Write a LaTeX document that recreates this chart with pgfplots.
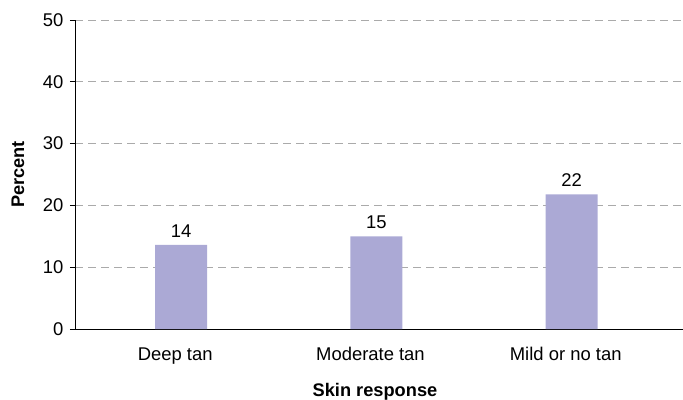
\documentclass[border=0pt]{standalone}
\usepackage{pgfplots}
\pgfplotsset{compat=1.18}
\usepackage{fontspec}
\setmainfont{Liberation Sans}
\definecolor{barcol}{RGB}{171,169,213}
\definecolor{gridcol}{RGB}{170,170,170}
\begin{document}
\begin{tikzpicture}
\useasboundingbox (-75bp,-71bp) rectangle (608bp,329bp);
\begin{axis}[
  scale only axis,
  width=608bp, height=309bp,
  xmin=-0.544, xmax=2.57,
  ymin=0, ymax=50,
  axis lines=left,
  axis line style={-, black, line width=0.8pt},
  ytick={0,10,20,30,40,50},
  xtick={0,1,2},
  xticklabels={Deep tan, Moderate tan, Mild or no tan},
  extra x ticks={-0.544,0.5,1.5},
  extra x tick labels={},
  extra x tick style={major tick length=5bp, tick style={black, line width=0.6pt}, tick align=outside},
  x tick style={draw=none},
  y tick style={black, line width=0.6pt},
  tick align=outside,
  major tick length=5bp,
  ymajorgrids,
  grid style={gridcol, dash pattern=on 8bp off 5bp, line width=0.8pt},
  /pgf/number format/assume math mode=true,
  tick label style={font=\fontsize{18.5}{22}\selectfont},
  yticklabel style={xshift=-3bp},
  xticklabel style={yshift=-10bp, xshift=-6bp},
  xlabel={Skin response},
  ylabel={Percent},
  every axis x label/.style={at={(axis description cs:0.5,-0.204)}, anchor=center, xshift=-4bp, font=\fontsize{18.3}{22}\selectfont\bfseries},
  every axis y label/.style={at={(axis description cs:-0.094,0.5)}, anchor=center, rotate=90, font=\fontsize{18.3}{22}\selectfont\bfseries},
  nodes near coords,
  point meta=explicit symbolic,
  every node near coord/.append style={font=\fontsize{18.5}{22}\selectfont, black, yshift=4bp},
]
\addplot[ybar, bar width=52bp, fill=barcol, draw=none] table[meta=lab] {
x y lab
0 13.6 14
1 15.0 15
2 21.8 22
};
\end{axis}
\end{tikzpicture}
\end{document}
